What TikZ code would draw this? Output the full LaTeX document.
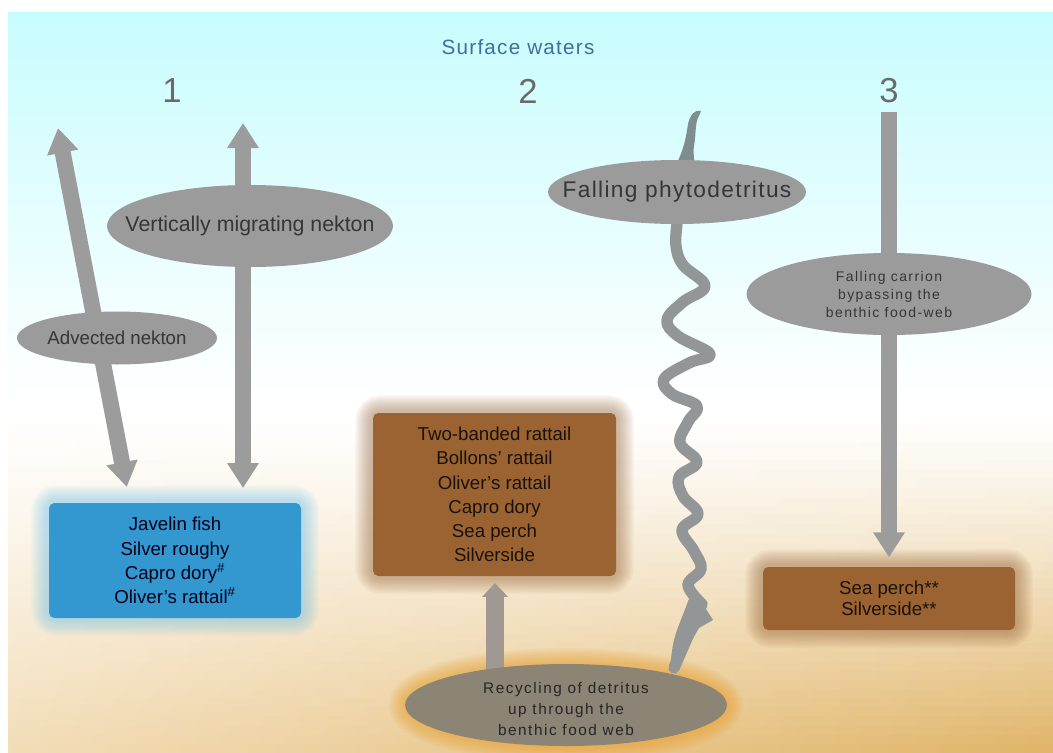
\documentclass[tikz,border=0pt]{standalone}
\usepackage{fontspec}
\setmainfont{Liberation Sans}
\newfontfamily\spacedA[LetterSpace=6]{Liberation Sans}
\newfontfamily\spacedB[LetterSpace=10]{Liberation Sans}
\newfontfamily\spacedC[LetterSpace=6]{Liberation Sans}
\usetikzlibrary{shapes.geometric,arrows.meta,calc}
\definecolor{cyantop}{HTML}{C8FCFE}
\definecolor{tanL}{HTML}{F2DCB6}
\definecolor{tanR}{HTML}{E0B468}
\definecolor{ellgray}{HTML}{9B9B9B}
\definecolor{arrgray}{HTML}{9C9C9C}
\definecolor{elltext}{HTML}{363636}
\definecolor{boxtext}{HTML}{1A1208}
\definecolor{bluebox}{HTML}{3498D0}
\definecolor{blueglow}{HTML}{5CBCEC}
\definecolor{brownglow}{HTML}{8A5424}
\definecolor{brownbox}{HTML}{9A6331}
\definecolor{recfill}{HTML}{8C8474}
\definecolor{recglow}{HTML}{E89A20}
\definecolor{wavecol}{HTML}{939697}
\definecolor{squigcol}{HTML}{7E8E90}
\definecolor{numcol}{HTML}{6A6A6A}
\definecolor{swcol}{HTML}{3F6F9C}
\pgfdeclarelayer{back}
\pgfdeclarelayer{glow}
\pgfdeclarelayer{arrows}
\pgfsetlayers{back,glow,arrows,main}
\newcommand\myglowrect[2]{%
  \foreach \w in {26pt,23pt,20pt,17pt,14pt,11pt,8pt,5pt}{%
    \draw[#2, line width=\w, draw opacity=0.06, rounded corners=6pt] (#1.south west) rectangle (#1.north east);}}
\newcommand\myglowell[4]{%
  \foreach \w in {24pt,21pt,18pt,15pt,12pt,9pt,6pt,3pt}{%
    \draw[#2, line width=\w, draw opacity=0.08] (#1.center) ellipse [x radius=#3, y radius=#4];}}
\begin{document}
\begin{tikzpicture}[x=0.75pt,y=-0.75pt,
  ell/.style={ellipse, fill=ellgray, inner sep=0pt},
  etext/.style={text=elltext, align=center, inner sep=0pt},
  box/.style={rectangle, rounded corners=4pt, inner sep=0pt, align=center, text=boxtext,
    font=\fontsize{14}{18.2}\selectfont},
  num/.style={text=numcol, font=\fontsize{26}{28}\selectfont, inner sep=0pt},
  fatarrow/.style={draw=arrgray, line width=12pt},
  bigtip/.tip={Triangle[length=18.75pt, width=22.5pt]},
  smalltip/.tip={Triangle[length=10.5pt, width=18.75pt]}
]
\useasboundingbox (0,0) rectangle (1053,753);
% ---------- background ----------
\begin{pgfonlayer}{back}
  \fill[white] (0,0) rectangle (1053,753);
  \fill[top color=cyantop, bottom color=white] (8,12) rectangle (1053,400);
  \foreach \i in {0,...,36}{%
    \pgfmathsetmacro\ya{415+\i*9.15}%
    \pgfmathsetmacro\yb{\ya+9.8}%
    \pgfmathsetmacro\p{100*((\i+0.5)/37)^1.15}%
    \fill[left color=tanL!\p!white, right color=tanR!\p!white] (8,\ya) rectangle (1053,\yb);
  }
\end{pgfonlayer}
% ---------- titles ----------
\node[text=swcol, font=\spacedA\fontsize{15.5}{18}\selectfont, inner sep=0pt] (sw) at (518,47) {Surface waters};
\node[num] (n1) at (172,91) {1};
\node[num] (n2) at (528,91) {2};
\node[num] (n3) at (889,91) {3};
% ---------- ellipses ----------
\node[ell, minimum width=214.5pt, minimum height=61.5pt] (vert) at (250,226) {};
\node[etext, font=\fontsize{16}{19}\selectfont] (vertt) at (vert) {Vertically migrating nekton};
\node[ell, minimum width=150pt, minimum height=39.75pt] (adv) at (117,338) {};
\node[etext, font=\fontsize{14}{17}\selectfont] (advt) at (adv) {Advected nekton};
\node[ell, minimum width=193.5pt, minimum height=48pt] (phyto) at (677,192) {};
\node[etext, font=\spacedC\fontsize{17}{19}\selectfont] (phytot) at (phyto) {Falling phytodetritus};
\node[ell, minimum width=213.75pt, minimum height=61.5pt] (carr) at (889,294) {};
\node[etext, font=\spacedB\fontsize{10.5}{13.5}\selectfont] (carrt) at (carr) {Falling carrion\\bypassing the\\benthic food-web};
\node[ell, fill=recfill, minimum width=241.5pt, minimum height=61.5pt] (rec) at (566,705) {};
\node[etext, font=\spacedB\fontsize{11.5}{15.75}\selectfont, text=black!85] (rect) at (566,709) {Recycling of detritus\\up through the\\benthic food web};
% ---------- boxes ----------
\node[box, fill=bluebox, minimum width=189pt, minimum height=86.25pt, text=black!90!blue] (blue) at (175,560.5)
  {Javelin fish\\Silver roughy\\Capro dory\textsuperscript{\#}\\Oliver's rattail\textsuperscript{\#}};
\node[box, fill=brownbox, minimum width=182.25pt, minimum height=122.25pt] (mid) at (494.5,494.5)
  {Two-banded rattail\\Bollons' rattail\\Oliver's rattail\\Capro dory\\Sea perch\\Silverside};
\node[box, fill=brownbox, minimum width=189pt, minimum height=47.25pt, font=\fontsize{14}{15.5}\selectfont] (rbox) at (889,598.5)
  {Sea perch**\\Silverside**};
% ---------- glows ----------
\begin{pgfonlayer}{glow}
  \myglowrect{blue}{blueglow}
  \myglowrect{mid}{brownglow}
  \myglowrect{rbox}{brownglow}
  \myglowell{rec}{recglow}{161}{41}
\end{pgfonlayer}
% ---------- connectors ----------
\coordinate (advtop) at (58,128);
\coordinate (advend) at ($(blue.north west)+(81,0)$);
\coordinate (vtop) at (243,123);
\coordinate (ctop) at (889,112);
\coordinate (upbase) at (495,672);
\coordinate (waveend) at (674,668);
\begin{pgfonlayer}{arrows}
  \draw[fatarrow, bigtip-bigtip, shorten >=12pt] (advtop) -- (advend);
  \draw[fatarrow, bigtip-bigtip, shorten >=11pt] (vtop) -- (vtop |- blue.north);
  \draw[fatarrow, line cap=butt, -bigtip, shorten >=7pt] (ctop) -- (ctop |- rbox.north);
  \draw[draw=arrgray!90!brown, line width=13.5pt, -smalltip, shorten >=5pt] (upbase) -- (upbase |- mid.south);
  % falling phytodetritus squiggle above ellipse
  \fill[squigcol] (672,172) .. controls (684,152) and (686,137) .. (688,124)
     .. controls (690,115) and (695,109) .. (701,111) -- (699,116)
     .. controls (695,121) and (696,136) .. (694,146)
     .. controls (693,153) and (694,162) .. (697,172) -- cycle;
  % wavy descent
  \draw[wavecol, line width=8.5pt, line cap=round, line join=round]
    plot[smooth, tension=0.65] coordinates {(phyto.south) (676,246) (683,265) (705,286) (683,302)
      (667,320) (678,336) (710,354) (689,363) (664,379) (672,394) (697,406) (688,422) (680,443)
      (697,462) (679,477) (683,496) (698,514) (682,530) (694,551) (701,569) (688,585) (702,604)}
    -- (waveend);
  \fill[wavecol] (690,596) .. controls (703,604) .. (713,620) -- (699,628)
     .. controls (692,640) .. (683,655) -- (678,668) -- (670,668)
     .. controls (673,640) .. (684,612) -- cycle;
\end{pgfonlayer}
\end{tikzpicture}
\end{document}
